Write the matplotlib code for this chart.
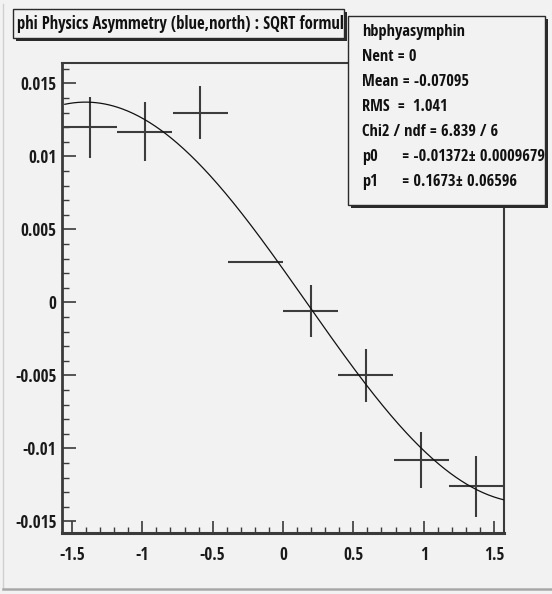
import numpy as np
import matplotlib
matplotlib.use("Agg")
import matplotlib.pyplot as plt
from matplotlib.patches import Rectangle
from matplotlib.ticker import MultipleLocator, FuncFormatter
from matplotlib import font_manager
from matplotlib.font_manager import FontProperties
from matplotlib.backends.backend_agg import RendererAgg

# ---- data -------------------------------------------------------------
phi_centers = [-1.374, -0.982, -0.589, -0.196, 0.196, 0.589, 0.982, 1.374]
phi_halfwidth = 0.196
asymmetry = [0.0120, 0.0117, 0.0130, 0.0028, -0.0006, -0.0050, -0.0108, -0.0126]
asym_err = [0.0021, 0.0020, 0.0018, 0.0, 0.0018, 0.0018, 0.0019, 0.0021]

x_range = (-np.pi / 2, np.pi / 2)
y_range = (-0.0158, 0.0164)
x_ticks = [-1.5, -1, -0.5, 0, 0.5, 1, 1.5]
y_ticks = [-0.015, -0.01, -0.005, 0, 0.005, 0.01, 0.015]

title = "phi Physics Asymmetry (blue,north) : SQRT formula"
hist_name = "hbphyasymphin"
n_entries = 0
mean = -0.07095
rms = 1.041
chi2, ndf = 6.839, 6
p0, p0_err = -0.01372, 0.0009679
p1, p1_err = 0.1673, 0.06596

plt.rcParams["axes.unicode_minus"] = False

# ---- fonts: narrowest bold face among the plain sans families ----------
_measure = RendererAgg(600, 200, 100)


def _wh(fp, s):
    w, h, d = _measure.get_text_width_height_descent(s, fp, ismath=False)
    return w, h


def _weight(entry):
    w = entry.weight
    if isinstance(w, str):
        w = font_manager.weight_dict.get(w, 400)
    return w


families = ("Liberation Sans", "Roboto", "Open Sans", "Noto Sans", "DejaVu Sans",
            "Lato", "Inter", "Arimo")
skip = ("Mono", "CJK", "Serif", "Math", "Symbols", "Display", "Slab")
best = None
for entry in font_manager.fontManager.ttflist:
    if not entry.name.startswith(families) or any(k in entry.name for k in skip):
        continue
    if _weight(entry) < 600 or entry.style != "normal":
        continue
    fp = FontProperties(fname=entry.fname, size=72)
    try:
        w, _ = _wh(fp, "Mean = -0.07095")
        _, h = _wh(fp, "0")
    except Exception:
        continue
    ratio = w / max(h, 1)
    if best is None or ratio < best[0]:
        best = (ratio, entry.fname)

BASE_FILE = best[1]


def fitted_font(sample, width_px, max_size=None):
    fp = FontProperties(fname=BASE_FILE, size=72)
    w, _ = _wh(fp, sample)
    size = 72 * width_px / w
    if max_size is not None:
        size = min(size, max_size)
    fp.set_size(size)
    return fp


W, H = 552, 594
BG = "#f2f2f2"

fig = plt.figure(figsize=(W / 100, H / 100), dpi=100, facecolor=BG)


def fx(px):
    return px / W


def fy(py):
    return 1 - py / H


# frame
ax_l, ax_r, ax_t, ax_b = 62, 504, 63, 533
ax = fig.add_axes([fx(ax_l), fy(ax_b), fx(ax_r) - fx(ax_l), fy(ax_t) - fy(ax_b)])
ax.set_facecolor(BG)
ax.set_xlim(*x_range)
ax.set_ylim(*y_range)

for side, lw in [("left", 2.0), ("bottom", 2.2), ("top", 1.5), ("right", 1.5)]:
    ax.spines[side].set_linewidth(lw)
    ax.spines[side].set_color("#3a3a3a")

ax.xaxis.set_minor_locator(MultipleLocator(0.1))
ax.yaxis.set_minor_locator(MultipleLocator(0.001))
ax.set_xticks(x_ticks)
ax.set_yticks(y_ticks)


def fmt(v, _pos):
    if abs(v) < 1e-12:
        return "0"
    return "%g" % v


ax.xaxis.set_major_formatter(FuncFormatter(fmt))
ax.yaxis.set_major_formatter(FuncFormatter(fmt))

ax.tick_params(axis="both", which="both", direction="in", colors="#3a3a3a",
               labelcolor="#1a1a1a")
ax.tick_params(axis="x", which="major", length=9, width=1.2, pad=9)
ax.tick_params(axis="x", which="minor", length=4.5, width=1.0)
ax.tick_params(axis="y", which="major", length=10, width=1.2, pad=4)
ax.tick_params(axis="y", which="minor", length=5, width=1.0)
ax.tick_params(top=False, right=False, which="both")
tick_font = fitted_font("0.015", 36)
for lab in ax.get_xticklabels() + ax.get_yticklabels():
    lab.set_fontproperties(tick_font)

# data points with horizontal bin-width bars
ax.errorbar(phi_centers, asymmetry, xerr=phi_halfwidth, yerr=asym_err,
            fmt="none", ecolor="#3c3c3c", elinewidth=1.5, capsize=0, zorder=3)

# fit curve: p0 * sin(phi - p1)
phi = np.linspace(x_range[0] + 0.02, x_range[1], 400)
ax.plot(phi, p0 * np.sin(phi - p1), color="#111111", lw=0.9, zorder=4)

# ---- title box ----------------------------------------------------------
tb_l, tb_t, tb_r, tb_b = 13, 9, 344, 38
shadow = Rectangle((fx(tb_l + 3), fy(tb_b + 3)), fx(tb_r) - fx(tb_l), fy(tb_t) - fy(tb_b),
                   transform=fig.transFigure, facecolor="#2a2a2a", edgecolor="none", zorder=5)
fig.add_artist(shadow)
tbox = Rectangle((fx(tb_l), fy(tb_b)), fx(tb_r) - fx(tb_l), fy(tb_t) - fy(tb_b),
                 transform=fig.transFigure, facecolor=BG, edgecolor="#2a2a2a", lw=1.0, zorder=6)
fig.add_artist(tbox)
title_font = fitted_font("phi Physics Asymmetry (blue,north) : SQRT formul", 326)
tt = fig.text(fx(17), fy(24), title, ha="left", va="center", fontproperties=title_font,
              color="#111111", zorder=7)
tt.set_clip_path(tbox)

# ---- statistics box ---------------------------------------------------
sb_l, sb_t, sb_r, sb_b = 348, 16, 545, 205
sshadow = Rectangle((fx(sb_l + 3), fy(sb_b + 3)), fx(sb_r) - fx(sb_l), fy(sb_t) - fy(sb_b),
                    transform=fig.transFigure, facecolor="#2a2a2a", edgecolor="none", zorder=8)
fig.add_artist(sshadow)
sbox = Rectangle((fx(sb_l), fy(sb_b)), fx(sb_r) - fx(sb_l), fy(sb_t) - fy(sb_b),
                 transform=fig.transFigure, facecolor=BG, edgecolor="#2a2a2a", lw=1.0, zorder=9)
fig.add_artist(sbox)

stat_lines = [
    (hist_name, ""),
    ("Nent = %d" % n_entries, ""),
    ("Mean = %.5f" % mean, ""),
    ("RMS  =  %.3f" % rms, ""),
    ("Chi2 / ndf = %.3f / %d" % (chi2, ndf), ""),
    ("p0", "= %.5f\u00b1 %.7f" % (p0, p0_err)),
    ("p1", "= %.4f\u00b1 %.5f" % (p1, p1_err)),
]
stat_font = fitted_font("Mean = -0.07095", 107)
y0, dy = 32, 25
for i, (left, right) in enumerate(stat_lines):
    y = y0 + i * dy
    fig.text(fx(362), fy(y), left, ha="left", va="center", fontproperties=stat_font,
             color="#111111", zorder=10)
    if right:
        fig.text(fx(402), fy(y), right, ha="left", va="center", fontproperties=stat_font,
                 color="#111111", zorder=10)

# canvas border
fig.add_artist(plt.Line2D([fx(3), fx(3)], [fy(4), fy(589)], transform=fig.transFigure,
                          color="#cfcfcf", lw=1.0))
fig.add_artist(plt.Line2D([fx(3), fx(552)], [fy(589), fy(589)], transform=fig.transFigure,
                          color="#a8a8a8", lw=1.8))

fig.savefig("out.png", dpi=100, facecolor=BG)
